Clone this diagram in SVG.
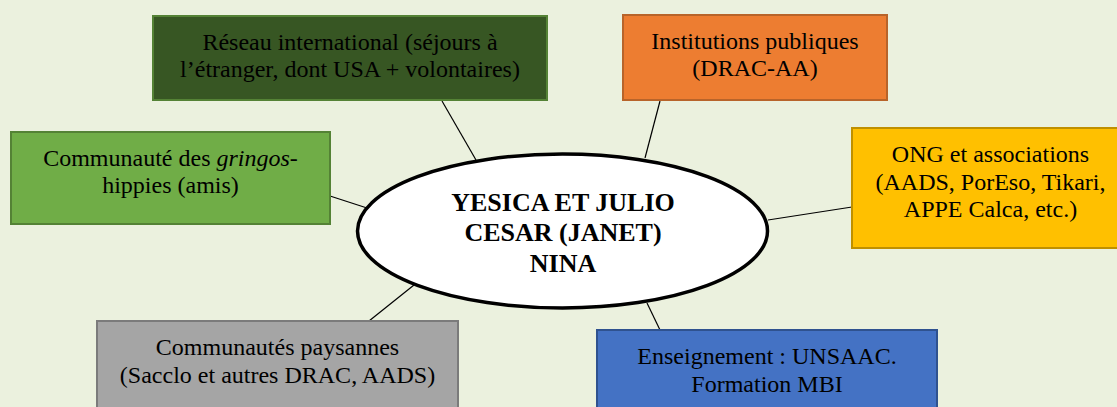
<svg xmlns="http://www.w3.org/2000/svg" width="1117" height="407" viewBox="0 0 1117 407">
  <style>
    .box { stroke-width: 2; }
    .t { font-family: "Liberation Serif", "Times New Roman", serif; font-size: 24px; fill: #000; text-anchor: middle; }
    .c { font-family: "Liberation Serif", "Times New Roman", serif; font-size: 26px; font-weight: bold; fill: #000; text-anchor: middle; }
    .conn line { stroke: #000; stroke-width: 1.2; }
  </style>
  <rect x="0" y="0" width="1117" height="407" fill="#EBF1DE"/>
  <g id="connectors" class="conn">
    <line x1="442" y1="101" x2="476" y2="160"/>
    <line x1="660" y1="101" x2="645" y2="158"/>
    <line x1="330" y1="196" x2="367" y2="208"/>
    <line x1="852" y1="207" x2="768" y2="220"/>
    <line x1="369" y1="321" x2="414" y2="285"/>
    <line x1="660" y1="330" x2="647" y2="303"/>
  </g>
  <g id="node-reseau">
    <rect class="box" x="153" y="16" width="394" height="84" fill="#375623" stroke="#548235"/>
    <text class="t" x="350" y="50">Réseau international (séjours à</text>
    <text class="t" x="350" y="77">l’étranger, dont USA + volontaires)</text>
  </g>
  <g id="node-institutions">
    <rect class="box" x="623" y="15" width="264" height="85" fill="#ED7D31" stroke="#B8642A"/>
    <text class="t" x="755" y="49">Institutions publiques</text>
    <text class="t" x="755" y="76">(DRAC-AA)</text>
  </g>
  <g id="node-gringos">
    <rect class="box" x="11" y="132" width="319" height="92" fill="#70AD47" stroke="#548235"/>
    <text class="t" x="170.5" y="166">Communauté des <tspan font-style="italic">gringos</tspan>-</text>
    <text class="t" x="170.5" y="193">hippies (amis)</text>
  </g>
  <g id="node-ong">
    <rect class="box" x="852" y="128" width="277" height="120" fill="#FFC000" stroke="#BF9000"/>
    <text class="t" x="990.5" y="162">ONG et associations</text>
    <text class="t" x="990.5" y="190">(AADS, PorEso, Tikari,</text>
    <text class="t" x="990.5" y="217">APPE Calca, etc.)</text>
  </g>
  <g id="node-paysannes">
    <rect class="box" x="97" y="321" width="361" height="95" fill="#A5A5A5" stroke="#7B7B7B"/>
    <text class="t" x="277.5" y="355">Communautés paysannes</text>
    <text class="t" x="277.5" y="383">(Sacclo et autres DRAC, AADS)</text>
  </g>
  <g id="node-enseignement">
    <rect class="box" x="597" y="330" width="340" height="95" fill="#4472C4" stroke="#2F528F"/>
    <text class="t" x="767" y="364">Enseignement : UNSAAC.</text>
    <text class="t" x="767" y="392">Formation MBI</text>
  </g>
  <g id="node-center">
    <ellipse cx="562.5" cy="231" rx="205" ry="77" fill="#FFFFFF" stroke="#000" stroke-width="3.5"/>
    <text class="c" x="563" y="211">YESICA ET JULIO</text>
    <text class="c" x="563" y="241">CESAR (JANET)</text>
    <text class="c" x="563" y="272">NINA</text>
  </g>
</svg>
